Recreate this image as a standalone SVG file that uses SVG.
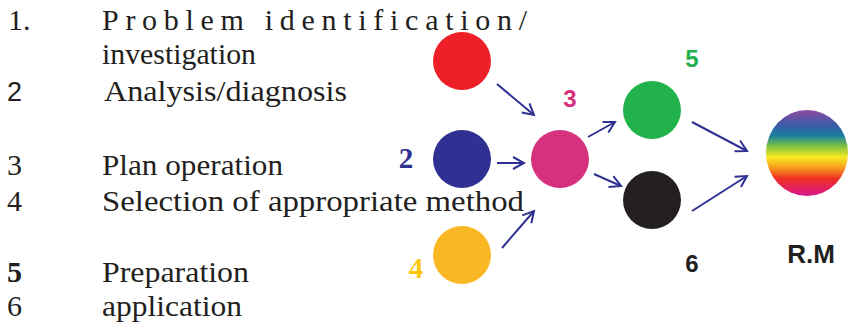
<svg xmlns="http://www.w3.org/2000/svg" width="849" height="326" viewBox="0 0 849 326">
<style>
.t{font-family:'Liberation Serif','Times New Roman',serif;font-size:30px;fill:#231f20}
.lb{font-family:'Liberation Sans',Arial,sans-serif;font-weight:bold;text-anchor:middle}
.sb{font-family:'Liberation Serif','Times New Roman',serif;font-weight:bold;font-size:29px}
.c{stroke:#2e3192;stroke-width:2;fill:none;marker-end:url(#ah)}
</style>
<defs>
<marker id="ah" viewBox="0 0 14 14" refX="12" refY="7" markerWidth="14" markerHeight="14" markerUnits="userSpaceOnUse" orient="auto">
<path d="M1,1 L12,7 L1,13" fill="none" stroke="#2e3192" stroke-width="2"/>
</marker>
<linearGradient id="rb" x1="0" y1="0" x2="0" y2="1">
<stop offset="0" stop-color="#8e4b9f"/>
<stop offset="0.18" stop-color="#3b5ba9"/>
<stop offset="0.3" stop-color="#1a7fa0"/>
<stop offset="0.42" stop-color="#7fc241"/>
<stop offset="0.55" stop-color="#f8ea22"/>
<stop offset="0.68" stop-color="#f7941d"/>
<stop offset="0.8" stop-color="#ee2e24"/>
<stop offset="1" stop-color="#d8198e"/>
</linearGradient>
</defs>
<g id="list">
<text class="t" x="8" y="30">1.</text>
<text class="t" x="102" y="30" textLength="425" lengthAdjust="spacing">Problem identification/</text>
<text class="t" x="102" y="64" textLength="154" lengthAdjust="spacingAndGlyphs">investigation</text>
<text class="t" x="7" y="101" style="font-family:'Liberation Sans',Arial,sans-serif;font-size:27px">2</text>
<text class="t" x="104" y="101" textLength="243" lengthAdjust="spacingAndGlyphs">Analysis/diagnosis</text>
<text class="t" x="7" y="175">3</text>
<text class="t" x="102" y="175" textLength="181" lengthAdjust="spacingAndGlyphs">Plan operation</text>
<text class="t" x="7" y="211">4</text>
<text class="t" x="102" y="211" textLength="422" lengthAdjust="spacingAndGlyphs">Selection of appropriate method</text>
<text class="t" x="7" y="282" style="font-weight:bold">5</text>
<text class="t" x="102" y="282" textLength="147" lengthAdjust="spacingAndGlyphs">Preparation</text>
<text class="t" x="7" y="316">6</text>
<text class="t" x="102" y="316" textLength="140" lengthAdjust="spacingAndGlyphs">application</text>
</g>
<g id="connectors">
<line class="c" x1="497" y1="84" x2="534" y2="115"/>
<line class="c" x1="497" y1="163" x2="524" y2="163"/>
<line class="c" x1="502" y1="248" x2="534" y2="211"/>
<line class="c" x1="588" y1="137" x2="615" y2="122"/>
<line class="c" x1="594" y1="174" x2="621" y2="186"/>
<line class="c" x1="692" y1="122" x2="747" y2="151"/>
<line class="c" x1="692" y1="211" x2="747" y2="176"/>
</g>
<g id="node1"><circle cx="462" cy="61" r="29" fill="#ed2027"/></g>
<g id="node2"><circle cx="462" cy="159" r="29" fill="#2e3192"/><text class="sb" x="406" y="168" text-anchor="middle" fill="#2e3192">2</text></g>
<g id="node4"><circle cx="462" cy="255" r="29" fill="#f9b823"/><text class="sb" x="416" y="278" text-anchor="middle" fill="#fdc70f">4</text></g>
<g id="node3"><circle cx="560" cy="159" r="29" fill="#d5317c"/><text class="lb" x="570" y="107" font-size="24" fill="#d5317c">3</text></g>
<g id="node5"><circle cx="652" cy="110" r="29" fill="#22b24c"/><text class="lb" x="692" y="67" font-size="24" fill="#22b24c">5</text></g>
<g id="node6"><circle cx="652" cy="200" r="29" fill="#231f20"/><text class="lb" x="692" y="272" font-size="24" fill="#231f20">6</text></g>
<g id="nodeRM"><ellipse cx="807" cy="153" rx="41" ry="43" fill="url(#rb)"/><text class="lb" x="811" y="263" font-size="26" fill="#231f20">R.M</text></g>
</svg>
